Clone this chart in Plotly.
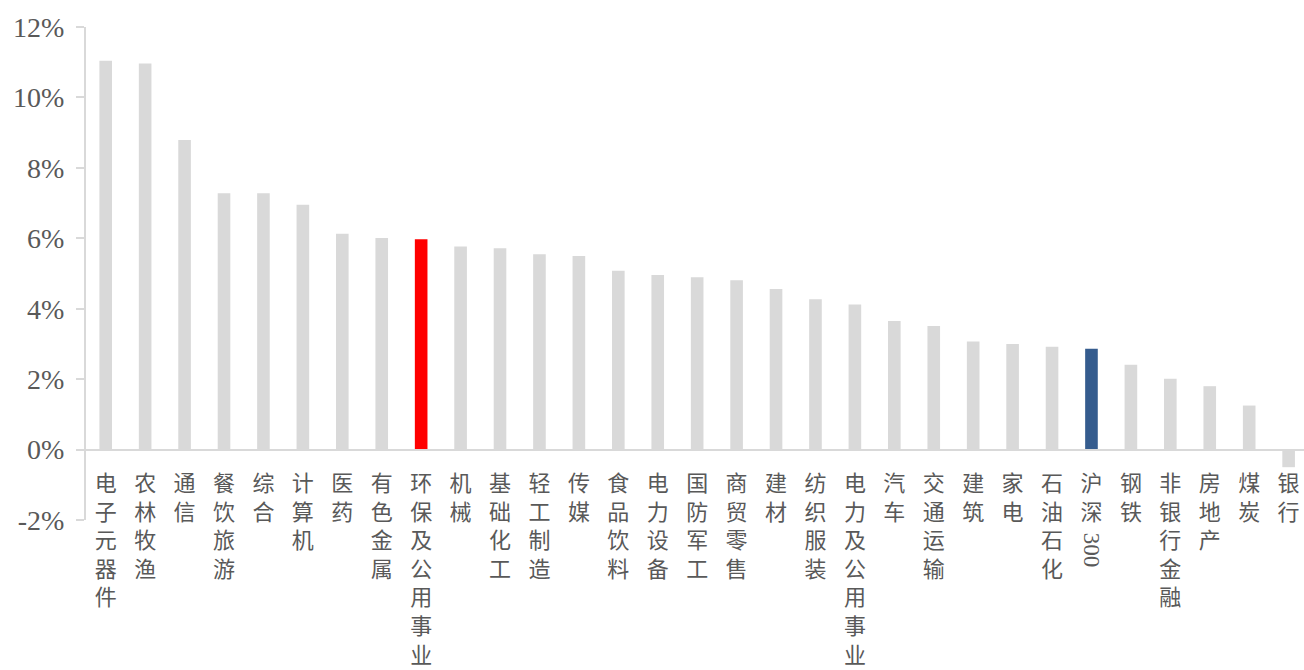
import plotly.graph_objects as go

categories = ["电子元器件", "农林牧渔", "通信", "餐饮旅游", "综合", "计算机", "医药", "有色金属",
              "环保及公用事业", "机械", "基础化工", "轻工制造", "传媒", "食品饮料", "电力设备",
              "国防军工", "商贸零售", "建材", "纺织服装", "电力及公用事业", "汽车", "交通运输",
              "建筑", "家电", "石油石化", "沪深300", "钢铁", "非银行金融", "房地产", "煤炭", "银行"]
values = [11.04, 10.96, 8.79, 7.28, 7.28, 6.95, 6.13, 6.01,
          5.97, 5.77, 5.72, 5.55, 5.50, 5.08, 4.96,
          4.89, 4.81, 4.56, 4.27, 4.12, 3.65, 3.51,
          3.07, 3.00, 2.92, 2.86, 2.41, 2.01, 1.80, 1.25, -0.50]
highlight_red = "环保及公用事业"
highlight_blue = "沪深300"
y_ticks = [-2, 0, 2, 4, 6, 8, 10, 12]
y_min, y_max = -2, 12

colors = []
for c in categories:
    if c == highlight_red:
        colors.append("#ff0000")
    elif c == highlight_blue:
        colors.append("#355c8e")
    else:
        colors.append("#d9d9d9")


def vertical(label):
    if label == "沪深300":
        return "沪<br>深"
    return "<br>".join(list(label))


ticktext = [vertical(c) for c in categories]

fig = go.Figure()
fig.add_trace(go.Bar(x=categories, y=values, marker=dict(color=colors, line=dict(width=0)),
                     showlegend=False))

# rotated "300" for the 沪深300 label (as in vertical typesetting)
fig.add_annotation(x=highlight_blue, xref="x", yref="paper", y=(-2.86 - y_min) / (y_max - y_min),
                   yanchor="middle", xanchor="center",
                   text="300", textangle=90, showarrow=False,
                   font=dict(family="Liberation Serif", size=23, color="#595959"))

fig.update_layout(
    width=1304, height=670,
    margin=dict(l=86, r=0, t=27, b=150),
    plot_bgcolor="white", paper_bgcolor="white",
    bargap=0.68,
    xaxis=dict(
        type="category",
        tickmode="array", tickvals=categories, ticktext=ticktext,
        range=[-0.5, 30.39],
        anchor="free", position=(0 - y_min) / (y_max - y_min),
        showline=True, linecolor="#d9d9d9", linewidth=2,
        ticks="", showgrid=False, zeroline=False,
        tickangle=0,
        tickfont=dict(family="Noto Sans CJK SC", size=22, color="#595959"),
        ticklabelstandoff=14,
    ),
    yaxis=dict(
        range=[y_min, y_max], tickvals=y_ticks, ticktext=[f"{v}%" for v in y_ticks],
        showline=True, linecolor="#d9d9d9", linewidth=2,
        ticks="outside", ticklen=8, tickcolor="#d9d9d9", tickwidth=2,
        showgrid=False, zeroline=False,
        tickfont=dict(family="Liberation Serif", size=28, color="#595959"),
        ticklabelstandoff=6,
    ),
)

fig.write_html("out.html")
